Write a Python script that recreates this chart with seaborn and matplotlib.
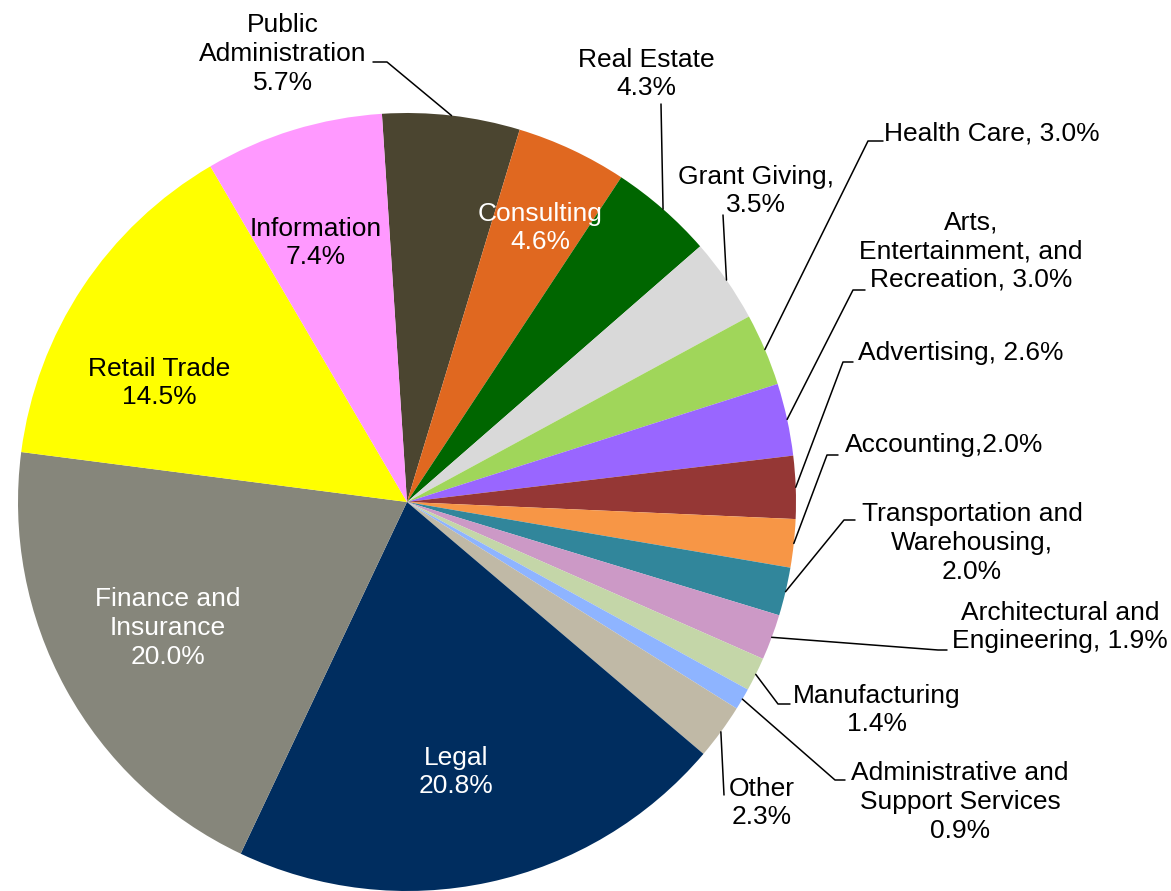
import numpy as np
import matplotlib.pyplot as plt
import seaborn as sns

# Data, clockwise from the top of the pie
sectors = ["Public\nAdministration", "Consulting", "Real Estate", "Grant Giving,", "Health Care,",
           "Arts,\nEntertainment, and\nRecreation,", "Advertising,", "Accounting,",
           "Transportation and\nWarehousing,", "Architectural and\nEngineering,", "Manufacturing",
           "Administrative and\nSupport Services", "Other", "Legal", "Finance and\nInsurance",
           "Retail Trade", "Information"]
shares = [5.7, 4.6, 4.3, 3.5, 3.0, 3.0, 2.6, 2.0, 2.0, 1.9, 1.4, 0.9, 2.3, 20.8, 20.0, 14.5, 7.4]
joiners = ["\n", "\n", "\n", "\n", " ", " ", " ", "", "\n", " ", "\n", "\n", "\n", "\n", "\n", "\n", "\n"]
colors = ["#4B4530", "#E06820", "#006600", "#D9D9D9", "#A0D65A", "#9966FF", "#953735", "#F79646",
          "#31869B", "#CC99C6", "#C4D6A8", "#8EB4FF", "#C0B9A6", "#002D5F", "#86867B", "#FFFF00", "#FF99FF"]

# Layout (pixel coordinates of the 1171x891 picture, y downwards)
W, H = 1171, 891
cx, cy, R = 407, 502, 389
text_pos = [(283, 54), (540, 228), (646, 74), (756, 191), (884, 133), (971, 251), (858, 353),
            (845, 445), (972, 543), (1060, 627), (877, 710), (960, 802), (762, 803), (456, 772),
            (168, 628), (159, 383), (316, 243)]
text_ha = ["center", "center", "center", "center", "left", "center", "left", "left", "center",
           "center", "center", "center", "center", "center", "center", "center", "center"]
text_color = ["black", "white", "black", "black", "black", "black", "black", "black", "black",
              "black", "black", "black", "black", "white", "white", "black", "black"]
leaders = {0: [(387, 62), (373, 62)], 2: [(661, 104)], 3: [(723, 215)],
           4: [(868, 141), (883, 141)], 5: [(853, 290), (865, 290)], 6: [(843, 362), (853, 362)],
           7: [(827, 455), (838, 455)], 8: [(844, 520), (855, 520)], 9: [(938, 650), (947, 650)],
           10: [(778, 704), (790, 704)], 11: [(835, 780), (845, 780)], 12: [(724, 795)]}

sns.set_theme(style="white")
plt.rcParams['font.family'] = ['Liberation Sans', 'DejaVu Sans']

fig = plt.figure(figsize=(11.71, 8.91), dpi=100)
ax = fig.add_axes([0, 0, 1, 1])

start = 90 + 3.7
wedges, _ = ax.pie(shares, colors=colors, startangle=start, counterclock=False,
                   center=(cx, H - cy), radius=R, wedgeprops=dict(linewidth=0))
ax.set_xlim(0, W)
ax.set_ylim(0, H)
ax.set_aspect('equal')
ax.axis('off')

for i, (name, val) in enumerate(zip(sectors, shares)):
    x, y = text_pos[i]
    ax.text(x, H - y, f"{name}{joiners[i]}{val:.1f}%", ha=text_ha[i], va='center',
            fontsize=19, color=text_color[i], linespacing=1.25)
    if i in leaders:
        w = wedges[i]
        mid = np.deg2rad((w.theta1 + w.theta2) / 2)
        pts = [(cx + R * np.cos(mid), H - cy + R * np.sin(mid))]
        pts += [(px, H - py) for px, py in leaders[i]]
        xs, ys = zip(*pts)
        ax.plot(xs, ys, color='black', lw=1.1)

fig.savefig('out.png', dpi=100)
